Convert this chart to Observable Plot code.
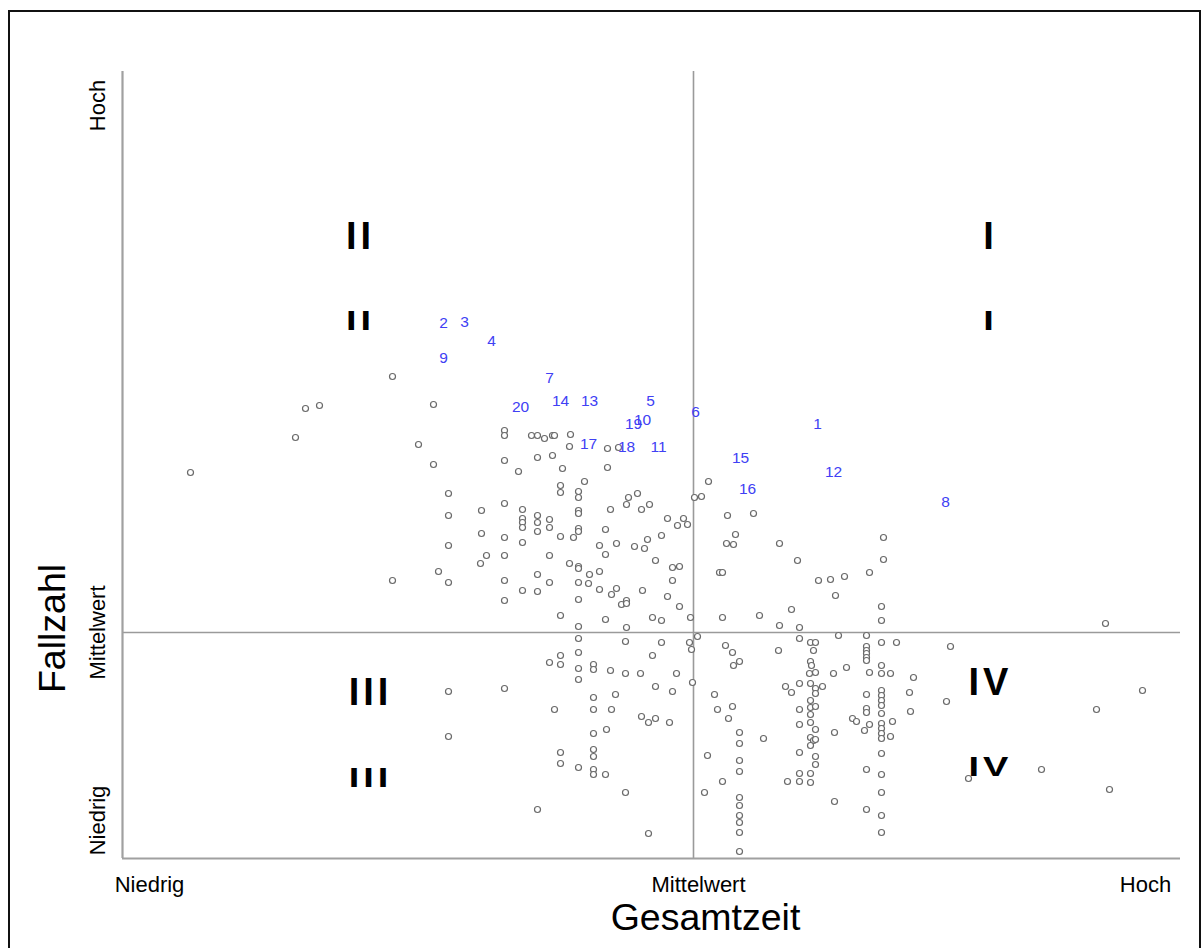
<!DOCTYPE html>
<html>
<head>
<meta charset="utf-8">
<script src="https://cdn.jsdelivr.net/npm/d3@7"></script>
<script src="https://cdn.jsdelivr.net/npm/@observablehq/plot@0.6"></script>
<style>
  html, body { margin: 0; padding: 0; background: #fff; }
  #wrap { position: relative; width: 1203px; height: 948px; overflow: hidden; }
  #border { position: absolute; left: 8px; top: 10px; width: 1193px; height: 945px; border: 2px solid #111; box-sizing: border-box; }
  #chart { position: absolute; left: 0; top: 0; }
  svg { font-family: "Liberation Sans", Arial, sans-serif; }
</style>
</head>
<body>
<div id="wrap"><div id="border"></div><div id="chart"></div></div>
<script>
// Axis domains (units: distance from the mean, arbitrary)
const xDomain = [-5.71, 4.87];
const yDomain = [-2.26, 5.61];

// Qualitative tick labels
const xTickPos = [-5.44, 0.05, 4.52];
const xTickLabels = ["Niedrig", "Mittelwert", "Hoch"];
const yTickPos = [-1.88, 0, 5.27];
const yTickLabels = ["Niedrig", "Mittelwert", "Hoch"];

const xTitle = "Gesamtzeit";
const yTitle = "Fallzahl";

// Quadrant labels (upper copy and clipped lower copy)
const quadNames = ["II", "I", "III", "IV"];
const quadX = [-3.33, 2.97, -3.23, 2.97];
const quadY = [3.96, 3.96, -0.60, -0.50];
const quadDupY = [3.11, 3.11, -1.46, -1.35];

// Numbered highlighted cases
const caseIds = [1,2,3,4,5,6,7,8,9,10,11,12,13,14,15,16,17,18,19,20];
const caseX = [1.24,-2.50,-2.29,-2.02,-0.43,0.02,-1.44,2.52,-2.50,-0.51,-0.35,1.40,-1.04,-1.33,0.47,0.54,-1.05,-0.67,-0.60,-1.73];
const caseY = [2.08,3.09,3.10,2.91,2.31,2.20,2.54,1.30,2.74,2.12,1.85,1.60,2.31,2.31,1.74,1.43,1.88,1.85,2.08,2.25];

// All other cases [Gesamtzeit, Fallzahl]
const points = [
[-3.01,2.56],[-3.88,2.24],[-3.74,2.27],[-3.98,1.95],[-5.03,1.60],[-2.75,1.88],[-2.60,2.28],[-2.60,1.68],
[-2.45,1.39],[-2.45,1.17],[-2.45,0.87],[-2.55,0.61],[-2.45,0.50],[-3.01,0.52],[-2.12,1.22],[-2.12,0.99],
[-2.07,0.77],[-2.13,0.69],[-1.89,2.02],[-1.89,1.97],[-1.89,1.72],[-1.89,1.29],[-1.89,0.95],[-1.89,0.77],
[-1.89,0.52],[-1.89,0.32],[-1.75,1.61],[-1.71,1.23],[-1.71,1.14],[-1.71,1.10],[-1.71,1.05],[-1.71,0.90],
[-1.71,0.42],[-1.62,1.97],[-1.56,1.97],[-1.49,1.94],[-1.41,1.97],[-1.39,1.97],[-1.23,1.98],[-1.24,1.86],
[-1.56,1.75],[-1.41,1.77],[-1.31,1.64],[-1.56,1.17],[-1.56,1.10],[-1.56,1.01],[-1.56,0.58],[-1.56,0.41],
[-1.44,1.13],[-1.44,1.05],[-1.44,0.77],[-1.44,0.50],[-1.33,1.47],[-1.33,1.40],[-1.33,0.96],[-1.33,0.17],
[-1.24,0.69],[-1.20,0.95],[-1.15,1.41],[-1.15,1.35],[-1.15,1.22],[-1.15,1.19],[-1.15,1.04],[-1.15,1.01],
[-1.15,0.66],[-1.15,0.64],[-1.15,0.50],[-1.15,0.33],[-1.15,0.06],[-1.15,-0.06],[-1.09,1.51],[-1.05,0.49],
[-1.04,0.58],[-0.94,0.87],[-0.94,0.61],[-0.94,0.43],[-0.88,1.03],[-0.88,0.78],[-0.88,0.13],[-0.86,1.84],
[-0.75,1.85],[-0.86,1.65],[-0.83,1.23],[-0.82,0.38],[-0.77,0.89],[-0.77,0.44],[-0.72,0.28],[-0.67,0.32],
[-0.67,0.29],[-0.67,0.05],[-0.67,1.28],[-0.65,1.35],[-0.59,0.86],[-0.56,1.39],[-0.52,1.23],[-0.49,0.84],
[-0.46,0.93],[-0.44,1.28],[-0.51,0.42],[-0.41,0.15],[-0.38,0.72],[-0.32,0.12],[-0.32,0.97],[-0.26,1.14],
[-0.26,0.36],[-0.21,0.65],[-0.14,0.66],[-0.21,0.52],[-0.16,1.07],[-0.10,1.14],[-0.06,1.08],[-0.14,0.26],
[-0.03,0.15],[0.01,1.35],[0.08,1.36],[0.15,1.51],[0.04,-0.04],[0.26,0.60],
[0.34,1.17],[0.42,0.98],[0.33,0.89],[0.40,0.88],[0.60,1.19],[0.86,0.89],[1.04,0.72],[0.29,0.60],
[0.29,0.15],[0.66,0.17],[0.98,0.23],[0.86,0.07],[1.06,0.05],[1.25,0.52],[1.37,0.53],[1.51,0.56],
[1.42,0.37],[1.76,0.60],[1.90,0.95],[1.90,0.73],[1.88,0.26],[1.88,0.12],[4.12,0.09],
[-1.15,-0.20],[-1.33,-0.23],[-1.33,-0.32],[-1.44,-0.30],[-1.15,-0.36],[-1.00,-0.32],[-1.00,-0.37],[-0.83,-0.38],
[-0.68,-0.09],[-0.68,-0.41],[-0.53,-0.41],[-0.41,-0.23],[-0.17,-0.41],[-1.15,-0.47],[-0.01,-0.50],[-0.32,-0.10],
[-0.04,-0.10],[-0.02,-0.17],[-2.45,-0.59],[-1.89,-0.56],[-0.78,-0.62],[-0.38,-0.54],[-0.21,-0.59],[-1.00,-0.65],
[-1.39,-0.77],[-1.00,-0.77],[-0.82,-0.77],[-0.52,-0.84],[-0.45,-0.90],[-0.38,-0.86],[-0.24,-0.90],[-1.00,-1.01],
[-0.87,-0.97],[-2.45,-1.04],[-1.00,-1.17],[-1.00,-1.24],[-1.33,-1.20],[-1.33,-1.31],[-1.15,-1.35],[-1.00,-1.37],
[-1.00,-1.42],[-0.88,-1.42],[-0.68,-1.60],[-1.56,-1.77],[-0.45,-2.01],
[0.21,-0.62],[0.24,-0.77],[0.14,-1.23],[0.11,-1.60],[1.06,-0.06],[1.45,-0.03],[1.73,-0.03],[1.88,-0.10],
[2.03,-0.10],[0.32,-0.13],[0.39,-0.20],[0.85,-0.18],[1.17,-0.10],[1.22,-0.10],[1.20,-0.18],[1.73,-0.14],
[1.73,-0.18],[1.73,-0.21],[1.73,-0.25],[1.73,-0.28],[0.46,-0.29],[0.40,-0.33],[1.17,-0.29],[1.18,-0.33],
[1.16,-0.41],[1.22,-0.40],[1.40,-0.41],[1.53,-0.35],[1.88,-0.33],[1.88,-0.41],[1.76,-0.40],[1.97,-0.41],
[2.20,-0.45],[2.57,-0.14],[0.39,-0.74],[0.35,-0.86],[1.06,-0.51],[0.92,-0.54],[0.98,-0.60],[1.17,-0.51],
[1.22,-0.56],[1.22,-0.61],[1.29,-0.54],[1.73,-0.62],[1.88,-0.58],[1.88,-0.63],[1.88,-0.68],[1.88,-0.73],
[2.16,-0.60],[1.06,-0.77],[1.17,-0.68],[1.17,-0.75],[1.22,-0.74],[1.73,-0.76],[1.73,-0.80],[1.88,-0.81],
[2.17,-0.79],[1.59,-0.86],[1.63,-0.89],[1.76,-0.92],[1.71,-0.98],[1.99,-0.89],[1.06,-0.92],[1.17,-0.90],
[1.17,-0.82],[1.22,-0.97],[1.88,-0.91],[1.88,-0.96],[1.88,-1.01],[1.88,-1.06],[1.97,-1.04],[1.41,-1.00],
[0.46,-1.00],[0.70,-1.06],[1.17,-1.05],[1.20,-1.08],[1.17,-1.13],[1.22,-1.07],[0.46,-1.11],[1.06,-1.20],
[1.22,-1.24],[1.22,-1.32],[1.88,-1.21],[0.46,-1.28],[0.46,-1.39],[1.73,-1.37],[1.06,-1.41],[1.17,-1.41],
[1.17,-1.50],[1.88,-1.42],[0.29,-1.49],[0.94,-1.49],[1.06,-1.49],[1.88,-1.60],[1.41,-1.69],[1.73,-1.77],
[0.46,-1.65],[0.46,-1.73],[0.46,-1.83],[0.46,-1.90],[0.46,-2.00],[1.88,-1.83],[1.88,-2.00],[0.46,-2.19],
[2.53,-0.69],[4.49,-0.58],[4.03,-0.77],[3.48,-1.37],[2.75,-1.46],[4.16,-1.57]
];

const quads = quadNames.map((n, i) => ({n, x: quadX[i], y: quadY[i], yd: quadDupY[i]}));
const cases = caseIds.map((id, i) => ({id, x: caseX[i], y: caseY[i]}));

const chart = Plot.plot({
  width: 1203,
  height: 948,
  marginLeft: 122,
  marginRight: 23,
  marginTop: 71,
  marginBottom: 90,
  x: {domain: xDomain, axis: null},
  y: {domain: yDomain, axis: null},
  style: {background: "transparent", fontFamily: "Liberation Sans, Arial, sans-serif"},
  marks: [
    // mean lines
    Plot.ruleX([0], {stroke: "#9a9a9a", strokeWidth: 1.6}),
    Plot.ruleY([0], {stroke: "#9a9a9a", strokeWidth: 1.6}),
    // axis lines
    Plot.ruleX([xDomain[0]], {stroke: "#a0a0a0", strokeWidth: 2.2}),
    Plot.ruleY([yDomain[0]], {stroke: "#a0a0a0", strokeWidth: 2.2}),
    // cases
    Plot.dot(points, {x: d => d[0], y: d => d[1], r: 3, stroke: "#6a6a6a", strokeWidth: 1.2, fill: "white"}),
    Plot.text(cases, {x: "x", y: "y", text: d => String(d.id), fill: "#4040f4", fontSize: 15.5}),
    // quadrant labels
    Plot.text(quads, {x: "x", y: "y", text: "n", fontSize: 38, fontWeight: "bold", fill: "#000000"}),
    Plot.text(quads, {x: "x", y: "yd", text: "n", fontSize: 38, fontWeight: "bold", fill: "#000001"}),
    // tick labels
    Plot.text(xTickPos, {x: d => d, text: (d, i) => xTickLabels[i], frameAnchor: "bottom", dy: 26, textAnchor: "middle", lineAnchor: "middle", fontSize: 22, fill: "black"}),
    Plot.text(yTickPos, {y: d => d, text: (d, i) => yTickLabels[i], frameAnchor: "left", dx: -25, rotate: -90, textAnchor: "middle", lineAnchor: "middle", fontSize: 22, fill: "black"}),
    // axis titles
    Plot.text([xTitle], {x: [0.12], text: d => d, frameAnchor: "bottom", dy: 59, textAnchor: "middle", lineAnchor: "middle", fontSize: 37.5, fill: "black"}),
    Plot.text([yTitle], {y: [0.04], text: d => d, frameAnchor: "left", dx: -70, rotate: -90, textAnchor: "middle", lineAnchor: "middle", fontSize: 37.5, fill: "black"})
  ]
});

document.getElementById("chart").appendChild(chart);

// letter spacing for quadrant labels, and squeeze the duplicate (clipped) copies
const quadSel = d3.select(chart).selectAll('g[fill="#000000"] text, g[fill="#000001"] text');
quadSel.style("letter-spacing", "4px");
d3.select(chart).selectAll('g[fill="#000001"] text').each(function() {
  const bb = this.getBBox();
  const cy = bb.y + bb.height / 2;
  const old = this.getAttribute("transform") || "";
  this.setAttribute("transform", `${old} translate(0,${cy}) scale(1,0.74) translate(0,${-cy})`);
});
</script>
</body>
</html>
